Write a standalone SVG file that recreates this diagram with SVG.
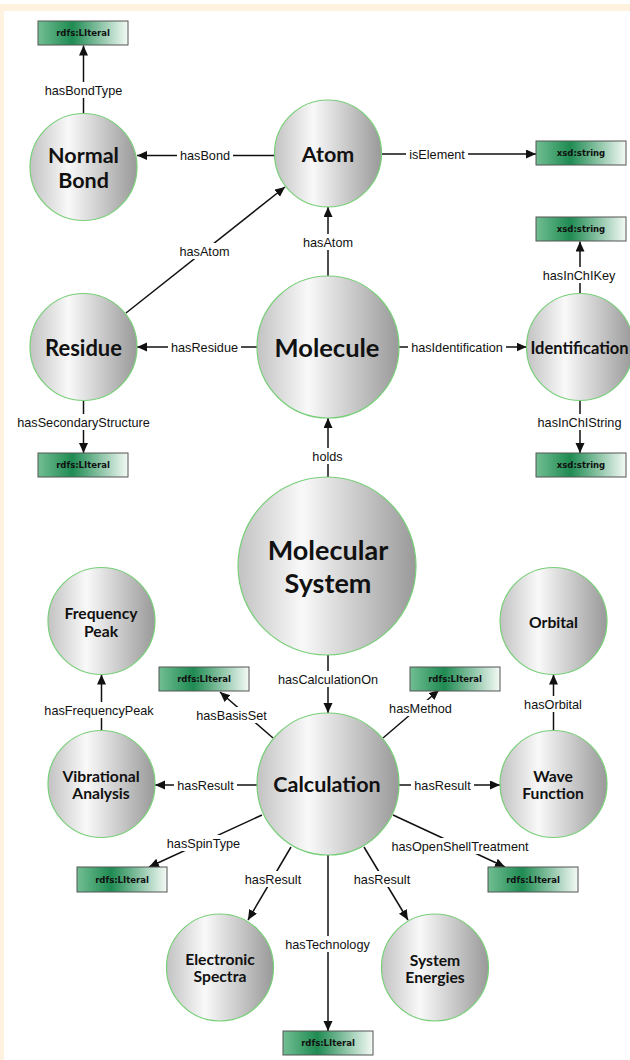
<svg xmlns="http://www.w3.org/2000/svg" width="630" height="1060" viewBox="0 0 630 1060">
<defs>
<linearGradient id="gCircle" x1="0" y1="0" x2="1" y2="0">
<stop offset="0" stop-color="#c2c2c2"/>
<stop offset="0.36" stop-color="#f9f9f9"/>
<stop offset="1" stop-color="#999999"/>
</linearGradient>
<linearGradient id="gLit" x1="0" y1="0" x2="1" y2="0">
<stop offset="0" stop-color="#72be93"/>
<stop offset="0.38" stop-color="#1f8b52"/>
<stop offset="1" stop-color="#f4faf6"/>
</linearGradient>
<marker id="arr" markerUnits="userSpaceOnUse" markerWidth="11" markerHeight="10" refX="10" refY="4.5" orient="auto">
<path d="M0,0 L10,4.5 L0,9 z" fill="#111"/>
</marker>
<style>
.node circle{fill:url(#gCircle);stroke:#78cf78;stroke-width:1.2}
.nt{font-family:Lato,"Liberation Sans",sans-serif;font-weight:bold;fill:#111;text-anchor:middle}
.lit rect{fill:url(#gLit);stroke:#555;stroke-width:1}
.lt{font-family:"DejaVu Sans",Verdana,sans-serif;font-weight:bold;font-size:8.5px;fill:#111;text-anchor:middle}
.conn path{fill:none;stroke:#111;stroke-width:1.5;marker-end:url(#arr)}
.lbl rect{fill:#fff}
.lbl text{font-family:"Liberation Sans",Arial,sans-serif;font-size:12.7px;fill:#111;text-anchor:middle}
</style>
</defs>
<rect x="0" y="0" width="630" height="1060" fill="#fff"/>
<rect x="0" y="4" width="630" height="1056" fill="#fff3e0"/>
<rect x="4" y="11" width="626" height="1049" fill="#fff"/>

<g id="connectors" class="conn">
<path d="M83.5,113.5 L83.5,45.5"/>
<path d="M275,155.5 L137,155.5"/>
<path d="M382,154 L536,154"/>
<path d="M126,313 L285,187"/>
<path d="M328,276 L328,207"/>
<path d="M257,347 L137,347"/>
<path d="M399,347 L526.5,347"/>
<path d="M580,293.5 L580,241.5"/>
<path d="M580,400.5 L580,453"/>
<path d="M83.5,400.5 L83.5,453"/>
<path d="M328,477 L328,418"/>
<path d="M328,655 L328,713"/>
<path d="M273,738 L220,692"/>
<path d="M383,738 L439,690"/>
<path d="M101.5,730.5 L101.5,674.5"/>
<path d="M553.5,730.5 L553.5,674.5"/>
<path d="M257,785 L155,785"/>
<path d="M399,785 L500,785"/>
<path d="M262,815 L149,867"/>
<path d="M291,847 L248,920"/>
<path d="M328,855 L328,1031"/>
<path d="M364,847 L408,920"/>
<path d="M393,815 L505,867"/>
</g>

<g id="labels" class="lbl">
<rect x="41" y="82" width="85" height="16"/><text x="83.5" y="94.5">hasBondType</text>
<rect x="177" y="147.5" width="56" height="16"/><text x="205" y="160">hasBond</text>
<rect x="406" y="146" width="62" height="16"/><text x="437" y="158.5">isElement</text>
<rect x="177" y="243" width="55" height="16"/><text x="204.5" y="255.5">hasAtom</text>
<rect x="300.5" y="234" width="55" height="16"/><text x="328" y="246.5">hasAtom</text>
<rect x="168" y="339" width="73" height="16"/><text x="204.5" y="351.5">hasResidue</text>
<rect x="408" y="339" width="98" height="16"/><text x="457" y="351.5">hasIdentification</text>
<rect x="540" y="267" width="78" height="16"/><text x="579" y="279.5">hasInChIKey</text>
<rect x="535" y="414" width="89" height="16"/><text x="579.5" y="426.5">hasInChIString</text>
<rect x="14" y="414" width="139" height="16"/><text x="83.5" y="426.5">hasSecondaryStructure</text>
<rect x="310" y="448" width="35" height="16"/><text x="327.5" y="460.5">holds</text>
<rect x="275" y="671" width="106" height="16"/><text x="328" y="683.5">hasCalculationOn</text>
<rect x="193" y="707" width="77" height="16"/><text x="231.5" y="719.5">hasBasisSet</text>
<rect x="386" y="700" width="69" height="16"/><text x="420.5" y="712.5">hasMethod</text>
<rect x="41" y="702" width="116" height="16"/><text x="99" y="714.5">hasFrequencyPeak</text>
<rect x="521" y="696" width="64" height="16"/><text x="553" y="708.5">hasOrbital</text>
<rect x="174" y="777" width="63" height="16"/><text x="205.5" y="789.5">hasResult</text>
<rect x="411" y="777" width="63" height="16"/><text x="442.5" y="789.5">hasResult</text>
<rect x="163" y="835" width="81" height="16"/><text x="203.5" y="847.5">hasSpinType</text>
<rect x="242" y="871" width="63" height="16"/><text x="273" y="883.5">hasResult</text>
<rect x="280" y="936" width="95" height="16"/><text x="327.5" y="948.5">hasTechnology</text>
<rect x="351" y="871" width="63" height="16"/><text x="382" y="883.5">hasResult</text>
<rect x="388" y="838" width="145" height="16"/><text x="460" y="850.5">hasOpenShellTreatment</text>
</g>

<g id="node-normal-bond" class="node"><circle cx="83.5" cy="167" r="53.5"/><text class="nt" x="83.5" y="163" font-size="21.5">Normal</text><text class="nt" x="83.5" y="188" font-size="21.5">Bond</text></g>
<g id="node-atom" class="node"><circle cx="328" cy="153.5" r="53.5"/><text class="nt" x="328" y="162" font-size="21.5">Atom</text></g>
<g id="node-residue" class="node"><circle cx="83.5" cy="347" r="53.5"/><text class="nt" x="83.5" y="355.5" font-size="22">Residue</text></g>
<g id="node-molecule" class="node"><circle cx="328" cy="347" r="71"/><text class="nt" x="327" y="356.5" font-size="25.5">Molecule</text></g>
<g id="node-identification" class="node"><circle cx="580" cy="347" r="53.5"/><text class="nt" x="579.5" y="354" font-size="16.5">Identification</text></g>
<g id="node-molecular-system" class="node"><circle cx="327" cy="566" r="89"/><text class="nt" x="328" y="560" font-size="27">Molecular</text><text class="nt" x="328" y="592.5" font-size="27">System</text></g>
<g id="node-frequency-peak" class="node"><circle cx="101.5" cy="621" r="53.5"/><text class="nt" x="101" y="619" font-size="15.7">Frequency</text><text class="nt" x="101" y="636.5" font-size="15.7">Peak</text></g>
<g id="node-vibrational-analysis" class="node"><circle cx="101.5" cy="784" r="53.5"/><text class="nt" x="101" y="781.5" font-size="15.7">Vibrational</text><text class="nt" x="101" y="799" font-size="15.7">Analysis</text></g>
<g id="node-calculation" class="node"><circle cx="328" cy="784" r="71"/><text class="nt" x="327" y="791.5" font-size="21.5">Calculation</text></g>
<g id="node-orbital" class="node"><circle cx="553.5" cy="621" r="53.5"/><text class="nt" x="553.5" y="628" font-size="15.7">Orbital</text></g>
<g id="node-wave-function" class="node"><circle cx="553.5" cy="784" r="53.5"/><text class="nt" x="553" y="781.5" font-size="15.7">Wave</text><text class="nt" x="553" y="799" font-size="15.7">Function</text></g>
<g id="node-electronic-spectra" class="node"><circle cx="220" cy="967.5" r="53.5"/><text class="nt" x="220" y="965" font-size="15.7">Electronic</text><text class="nt" x="220" y="982.3" font-size="15.7">Spectra</text></g>
<g id="node-system-energies" class="node"><circle cx="435" cy="967.5" r="53.5"/><text class="nt" x="435" y="965.5" font-size="15.7">System</text><text class="nt" x="435" y="982.7" font-size="15.7">Energies</text></g>

<g id="lit-bondtype" class="lit"><rect x="38" y="21" width="90" height="24"/><text class="lt" x="83" y="36">rdfs:LIteral</text></g>
<g id="lit-element" class="lit"><rect x="536" y="141" width="90" height="24"/><text class="lt" x="581" y="156">xsd:string</text></g>
<g id="lit-inchikey" class="lit"><rect x="536" y="217" width="90" height="24"/><text class="lt" x="581" y="232">xsd:string</text></g>
<g id="lit-secondary" class="lit"><rect x="38" y="453" width="90" height="24"/><text class="lt" x="83" y="468">rdfs:LIteral</text></g>
<g id="lit-inchistring" class="lit"><rect x="536" y="453" width="90" height="24"/><text class="lt" x="581" y="468">xsd:string</text></g>
<g id="lit-basisset" class="lit"><rect x="159" y="667" width="90" height="24"/><text class="lt" x="204" y="682">rdfs:LIteral</text></g>
<g id="lit-method" class="lit"><rect x="410" y="667" width="90" height="24"/><text class="lt" x="455" y="682">rdfs:LIteral</text></g>
<g id="lit-spintype" class="lit"><rect x="77" y="867" width="90" height="25"/><text class="lt" x="122" y="882.5">rdfs:LIteral</text></g>
<g id="lit-openshell" class="lit"><rect x="488" y="867" width="90" height="25"/><text class="lt" x="533" y="882.5">rdfs:LIteral</text></g>
<g id="lit-technology" class="lit"><rect x="283" y="1031" width="90" height="24"/><text class="lt" x="328" y="1046">rdfs:LIteral</text></g>
</svg>
